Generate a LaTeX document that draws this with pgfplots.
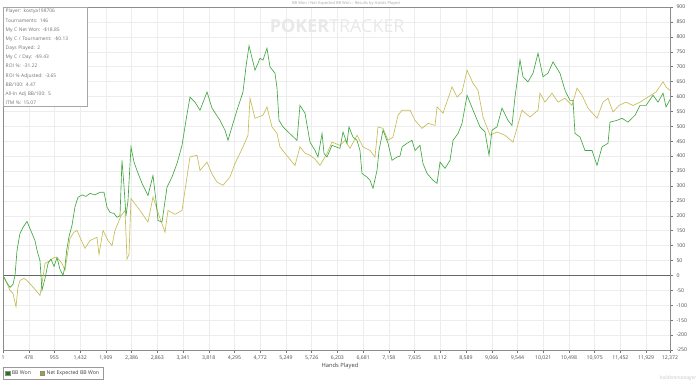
\documentclass[border=0pt]{standalone}
\usepackage{fontspec}
\setmainfont{Open Sans}
\usepackage{pgfplots}
\usepackage{pgfplotstable}
\pgfplotsset{compat=1.18}
\definecolor{bbgreen}{RGB}{64,168,64}
\definecolor{evyellow}{RGB}{198,188,84}
\definecolor{lgreen}{RGB}{30,120,30}
\definecolor{lyellow}{RGB}{170,160,40}

\pgfplotstableread{
h v
1 0
75 -25
131 -40
186 -30
224 0
261 84
316 141
372 161
446 181
539 141
594 117
632 84
687 50
724 -50
780 -10
836 40
891 55
947 30
1003 60
1058 20
1114 0
1151 30
1182 84
1225 130
1281 168
1336 230
1392 262
1466 270
1540 265
1615 275
1707 270
1800 279
1874 279
1930 229
1986 211
2060 208
2115 195
2171 200
2208 386
2245 300
2282 200
2319 250
2375 431
2431 380
2486 352
2579 309
2690 268
2783 335
2839 250
2876 184
2950 179
3043 296
3135 330
3228 375
3321 436
3395 520
3469 598
3562 581
3655 554
3785 615
3877 561
4026 520
4118 487
4174 453
4267 510
4341 554
4452 615
4508 700
4564 770
4675 688
4768 728
4823 722
4897 762
4953 699
5046 678
5083 628
5120 520
5194 498
5324 475
5454 453
5509 570
5602 544
5695 447
5788 419
5843 397
5918 476
5955 409
6010 397
6103 436
6251 426
6307 481
6381 443
6418 498
6492 464
6567 453
6622 419
6659 342
6752 330
6808 319
6863 292
6938 352
6975 419
7049 487
7142 443
7216 386
7309 397
7364 400
7402 431
7494 443
7587 453
7643 419
7735 436
7791 375
7866 342
7977 319
8051 309
8107 380
8199 359
8292 386
8348 453
8441 476
8515 510
8608 604
8719 554
8848 498
8941 481
9015 403
9071 487
9163 498
9256 561
9367 520
9441 503
9497 598
9590 722
9646 666
9738 649
9831 678
9924 745
10016 666
10109 678
10202 716
10331 678
10424 621
10517 587
10573 587
10610 476
10703 464
10795 419
10925 419
11018 369
11111 431
11222 443
11259 514
11389 520
11482 527
11593 514
11723 537
11816 570
11927 570
12057 604
12150 581
12243 611
12299 565
12372 590
}\bbwon

\pgfplotstableread{
h v
1 0
75 -27
131 -50
186 -60
242 -105
279 -40
316 -17
391 -10
446 -17
557 -39
632 -55
687 -67
743 -6
780 40
873 50
947 60
1003 61
1095 40
1151 17
1243 124
1318 145
1373 151
1448 120
1522 91
1615 117
1744 128
1782 70
1856 151
1949 117
2023 100
2078 151
2190 200
2264 218
2301 55
2338 70
2375 258
2449 240
2542 218
2690 179
2783 263
2913 191
3006 145
3061 218
3191 205
3321 218
3358 263
3469 397
3599 403
3655 352
3785 380
3877 340
3970 313
4081 302
4211 330
4304 375
4452 431
4545 470
4582 594
4675 527
4823 537
4897 565
4990 498
5083 476
5138 431
5287 397
5417 369
5509 431
5602 410
5695 403
5788 390
5880 369
6010 409
6103 447
6251 436
6344 453
6437 426
6567 470
6678 431
6808 419
6900 397
6956 498
7049 493
7142 453
7235 464
7327 537
7402 554
7550 554
7643 520
7773 493
7884 510
8014 503
8051 565
8162 544
8329 632
8422 598
8515 615
8608 688
8719 644
8811 621
8904 531
9034 470
9163 481
9312 470
9460 447
9627 554
9775 531
9924 554
9961 611
10053 581
10183 611
10295 581
10424 594
10554 570
10647 628
10740 604
10851 561
11018 527
11129 581
11222 594
11315 548
11426 570
11556 581
11686 570
11816 581
11964 598
12113 615
12243 649
12299 632
12372 620
}\evwon

\begin{document}
\begin{tikzpicture}
\begin{axis}[
  at={(0,0)}, anchor=south west,
  scale only axis, width=667bp, height=343bp,
  xmin=1, xmax=12372, ymin=-250, ymax=900,
  scaled x ticks=false, scaled y ticks=false,
  xtick={1,478,955,1432,1909,2386,2863,3341,3818,4295,4772,5249,5726,6203,6681,7158,7635,8112,8589,9066,9544,10021,10498,10975,11452,11929,12372},
  xticklabels={1,478,955,{1,432},{1,909},{2,386},{2,863},{3,341},{3,818},{4,295},{4,772},{5,249},{5,726},{6,203},{6,681},{7,158},{7,635},{8,112},{8,589},{9,066},{9,544},{10,021},{10,498},{10,975},{11,452},{11,929},{12,372}},
  ytick={-250,-200,...,900},
  yticklabel pos=right, ytick pos=right, xtick pos=left,
  tick align=outside, major tick length=3bp,
  tick style={black!55, line width=0.4pt},
  grid=major, grid style={black!7, line width=0.4pt},
  axis line style={black!45, line width=0.6pt},
  ticklabel style={font=\fontsize{5.2}{6}\selectfont, text=black!70},
  xticklabel style={yshift=1bp},
  yticklabel style={xshift=0bp},
  /pgf/number format/assume math mode=true,
  extra y ticks={0}, extra y tick labels={},
  extra y tick style={grid style={black!60, line width=1.2bp}, major tick length=0pt},
  legend columns=2,
  legend style={at={(rel axis cs:0,0)}, anchor=north west, yshift=-17bp,
    draw=black!40, line width=0.4pt, font=\fontsize{5.2}{6}\selectfont, text=black!75,
    inner xsep=2bp, inner ysep=1.5bp,
    /tikz/every even column/.append style={column sep=7bp}},
  clip=true,
]
\node[text=black!9, font=\fontsize{18}{18}\selectfont, anchor=center] at (axis cs:6200,835) {\textbf{POKER}TRACKER};
\addplot[draw=evyellow, line width=0.65bp, forget plot] table[x=h,y=v] {\evwon};
\addplot[draw=bbgreen, line width=0.65bp,
  legend image code/.code={\filldraw[draw=black!45,fill=lgreen,line width=0.3pt] (0bp,-2.2bp) rectangle (4.4bp,2.2bp);}] table[x=h,y=v] {\bbwon};
\addlegendentry{BB Won}
\addlegendimage{legend image code/.code={\filldraw[draw=black!45,fill=lyellow,line width=0.3pt] (0bp,-2.2bp) rectangle (4.4bp,2.2bp);}}
\addlegendentry{Net Expected BB Won}
\draw[black!45, line width=1.6bp] (rel axis cs:0,0) -- (rel axis cs:0,1);
\node[draw=black!35, fill=white, anchor=north west, inner xsep=2.5bp, inner ysep=2bp, align=left,
  text width=79bp, font=\fontsize{4.9}{9.2}\selectfont, text=black!55, line width=0.5pt]
  at (rel axis cs:0,1) {Player: kostya198706\\Tournaments: 146\\My C Net Won: -\$18.85\\My C / Tournament: -\$0.13\\Days Played: 2\\My C / Day: -\$9.43\\ROI \%: -31.22\\ROI \% Adjusted: -3.65\\BB/100: 4.47\\All-In Adj BB/100: 5\\ITM \%: 15.07};
\end{axis}
\node[font=\fontsize{5.8}{7}\selectfont, text=black!75] at (337bp,-15.5bp) {Hands Played};
\node[font=\fontsize{4}{5}\selectfont, text=black!35, anchor=south, inner sep=0pt] at (343bp,344.8bp) {BB Won / Net Expected BB Won -- Results by Hands Played};
\node[font=\itshape\fontsize{5}{6}\selectfont, text=black!22] at (675bp,-28.5bp) {holdemmanager};
\pgfresetboundingbox
\path[use as bounding box] (-3bp,-34bp) rectangle (697bp,350bp);
\end{tikzpicture}
\end{document}
